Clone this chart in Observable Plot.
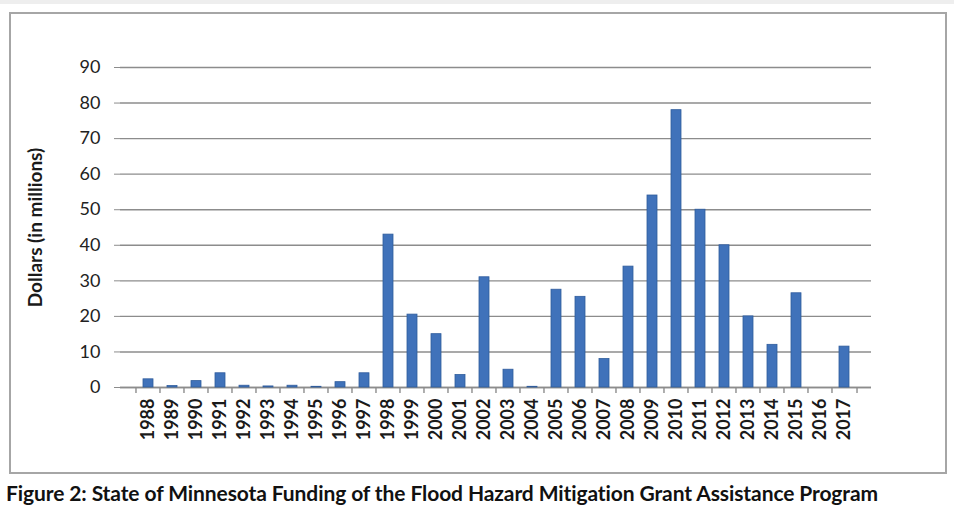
<!DOCTYPE html>
<html>
<head>
<meta charset="utf-8">
<script src="https://cdn.jsdelivr.net/npm/d3@7"></script>
<script src="https://cdn.jsdelivr.net/npm/@observablehq/plot@0.6"></script>
<style>
  html, body { margin: 0; padding: 0; background: #fff; }
  body { width: 954px; height: 512px; position: relative; overflow: hidden; font-family: Lato, "Open Sans", sans-serif; }
  #topband { position: absolute; left: 0; top: 0; width: 954px; height: 4px; background: #eeeeee; }
  #frame { position: absolute; left: 9px; top: 12px; width: 938px; height: 462px; border: 2px solid #a6a6a6; box-sizing: border-box; pointer-events: none; }
  #chart { position: absolute; left: 0; top: 0; }
  #caption { position: absolute; left: 6px; top: 480px; font-size: 21px; font-weight: bold; color: #111; white-space: nowrap; letter-spacing: -0.1px; }
</style>
</head>
<body>
<div id="topband"></div>
<div id="chart"></div>
<div id="frame"></div>
<div id="caption"></div>
<script>
const years = ["1988","1989","1990","1991","1992","1993","1994","1995","1996","1997",
               "1998","1999","2000","2001","2002","2003","2004","2005","2006","2007",
               "2008","2009","2010","2011","2012","2013","2014","2015","2016","2017"];
const funding = [2.3, 0.4, 1.8, 4.0, 0.5, 0.3, 0.5, 0.2, 1.5, 4.0,
                 43.0, 20.5, 15.0, 3.5, 31.0, 5.0, 0.2, 27.5, 25.5, 8.0,
                 34.0, 54.0, 78.0, 50.0, 40.0, 20.0, 12.0, 26.5, 0.0, 11.5];
const yTicks = [0, 10, 20, 30, 40, 50, 60, 70, 80, 90];
const yLabel = "Dollars (in millions)";
const captionText = "Figure 2: State of Minnesota Funding of the Flood Hazard Mitigation Grant Assistance Program";

const data = years.map((y, i) => ({year: y, value: funding[i]}));

const W = 954, H = 480;
const mL = 120, mR = 83, mT = 67, mB = 93;
const step = (W - mL - mR) / years.length;

const chart = Plot.plot({
  width: W,
  height: H,
  marginLeft: mL,
  marginRight: mR,
  marginTop: mT,
  marginBottom: mB,
  style: { fontFamily: "Lato, 'Open Sans', sans-serif", background: "transparent" },
  x: { domain: years, padding: 0.6, label: null },
  y: { domain: [0, 90], label: null },
  marks: [
    Plot.gridY(yTicks, { stroke: "#8c8c8c", strokeOpacity: 1, strokeWidth: 1.4 }),
    Plot.ruleX([0], { x: () => mL, stroke: "#8c8c8c" }),
    Plot.axisY(yTicks, {
      tickSize: 6, tickPadding: 14, stroke: "#8c8c8c", fontSize: 18, fill: "#222", label: null, tickFormat: d => String(d)
    }),
    Plot.ruleY([0], { stroke: "#8c8c8c", strokeWidth: 1.4 }),
    // category separator ticks (Excel style) below the axis
    Plot.ruleX(years, { x: d => d, y1: 0, y2: 0, insetBottom: -6, dx: -step / 2, stroke: "#8c8c8c", strokeWidth: 1.4 }),
    Plot.ruleX([years[years.length - 1]], { x: d => d, y1: 0, y2: 0, insetBottom: -6, dx: step / 2, stroke: "#8c8c8c", strokeWidth: 1.4 }),
    Plot.barY(data, { x: "year", y: "value", fill: "#4072ba", stroke: "#2f5c9c", strokeWidth: 0.8 }),
    Plot.axisX({
      tickSize: 0, tickPadding: 11, tickRotate: -90, fontSize: 18, fontWeight: "bold", fill: "#1a1a1a", label: null
    }),
    Plot.text([yLabel], {
      frameAnchor: "left", dx: -85, rotate: -90, fontSize: 19, fontWeight: "bold", fill: "#1a1a1a", textAnchor: "middle"
    })
  ]
});
document.getElementById("chart").appendChild(chart);
document.getElementById("caption").textContent = captionText;
</script>
</body>
</html>
